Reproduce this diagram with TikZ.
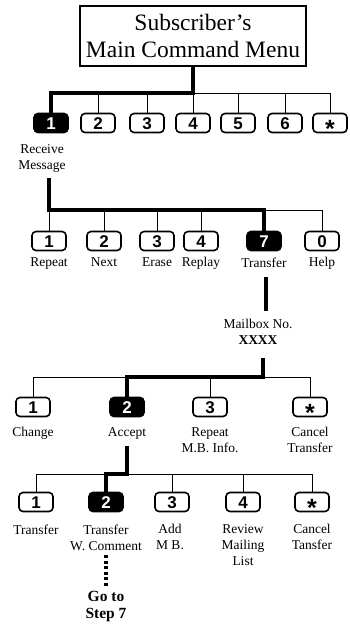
\documentclass[tikz,border=0pt]{standalone}
\usepackage{fontspec}
\setmainfont{Liberation Serif}
\newfontfamily\keyfont{Liberation Sans}
\usetikzlibrary{positioning}
\newcommand{\keystar}{\raisebox{-8.5pt}{\fontsize{25}{25}\selectfont *}}
\begin{document}
\begin{tikzpicture}[
x=1pt,y=-1pt,
key/.style={draw,line width=1.6pt,rounded corners=4pt,minimum width=34pt,minimum height=19pt,inner sep=0pt,text height=12pt,text depth=0pt,font=\keyfont\bfseries\fontsize{17}{17}\selectfont},
keyon/.style={key,fill=black,text=white},
lbl/.style={align=center,inner sep=0pt,font=\fontsize{13.5}{16}\selectfont},
line/.style={draw,line width=1pt},
bigl/.style={draw,line width=4pt}
]
\useasboundingbox (0,0) rectangle (350,625);

%main menu
\node[draw,line width=1.2pt,minimum width=226pt,minimum height=60pt,inner sep=0pt,align=center,font=\fontsize{23.5}{27}\selectfont] (menu) at (193,36) {Subscriber's\\Main Command Menu};

\coordinate (bus1) at (51,93);
\node[keyon] (k11) at (51,123) {1};
\node[key] (k12) at (98,123) {2};
\node[key] (k13) at (147,123) {3};
\node[key] (k14) at (193,123) {4};
\node[key] (k15) at (238,123) {5};
\node[key] (k16) at (285,123) {6};
\node[key] (k17) at (330,123) {\keystar};
\node[lbl,anchor=north] (rcv) at (42,144) {Receive\\Message};

\path[line] (k11 |- bus1) -- (k17 |- bus1);
	\path[line] (k12) -- (k12 |- bus1);
	\path[line] (k13) -- (k13 |- bus1);
	\path[line] (k14) -- (k14 |- bus1);
	\path[line] (k15) -- (k15 |- bus1);
	\path[line] (k16) -- (k16 |- bus1);
	\path[line] (k17) -- (k17 |- bus1);
\path[bigl] (menu) -- (menu |- bus1) -| (k11);

%receive message
\coordinate (bus2) at (49,210);
\node[key] (k21) at (49,241) {1};
\node[key] (k22) at (104,241) {2};
\node[key] (k23) at (157,241) {3};
\node[key] (k24) at (201,241) {4};
\node[keyon] (k25) at (264,241) {7};
\node[key] (k26) at (322,241) {0};
	\node[lbl,below=6pt of k21] (l21) {Repeat};
	\node[lbl,below=6pt of k22] (l22) {Next};
	\node[lbl,below=6pt of k23] (l23) {Erase};
	\node[lbl,below=6pt of k24] (l24) {Replay};
	\node[lbl,below=6pt of k25] (l25) {Transfer};
	\node[lbl,below=6pt of k26] (l26) {Help};

\path[line] (k21 |- bus2) -- (k26 |- bus2);
	\path[line] (k21) -- (k21 |- bus2);
	\path[line] (k22) -- (k22 |- bus2);
	\path[line] (k23) -- (k23 |- bus2);
	\path[line] (k24) -- (k24 |- bus2);
	\path[line] (k26) -- (k26 |- bus2);
\path[bigl,shorten <=6pt] (rcv.south -| bus2) -- (bus2) -| (k25);

%transfer
\node[lbl,anchor=north] (mbox) at (258,319) {Mailbox No.\\\textbf{XXXX}};
\path[bigl,shorten <=10pt,shorten >=8pt] ([xshift=2pt]l25.south) -- ([xshift=2pt]l25.south |- mbox.north);

\coordinate (bus3) at (263,377);
\node[key] (k31) at (33,407) {1};
\node[keyon] (k32) at (127,407) {2};
\node[key] (k33) at (210,407) {3};
\node[key] (k34) at (310,407) {\keystar};
	\node[lbl,below=10pt of k31] (l31) {Change};
	\node[lbl,below=10pt of k32] (l32) {Accept};
	\node[lbl,below=10pt of k33] (l33) {Repeat\\M.B. Info.};
	\node[lbl,below=10pt of k34] (l34) {Cancel\\Transfer};

\path[line] (k31 |- bus3) -- (k34 |- bus3);
	\path[line] (k31) -- (k31 |- bus3);
	\path[line] (k33) -- (k33 |- bus3);
	\path[line] (k34) -- (k34 |- bus3);
\path[bigl,shorten <=13pt] (mbox.south -| bus3) -- (bus3) -| (k32);

%accept
\coordinate (bus4) at (127,474);
\node[key] (k41) at (36,502) {1};
\node[keyon] (k42) at (106,502) {2};
\node[key] (k43) at (172,502) {3};
\node[key] (k44) at (243,502) {4};
\node[key] (k45) at (312,502) {\keystar};
	\node[lbl,below=12pt of k41] (l41) {Transfer};
	\node[lbl,below=12pt of k42] (l42) {Transfer\\W. Comment};
	\node[lbl,below=12pt of k43,xshift=-2pt] (l43) {Add\\M B.};
	\node[lbl,below=12pt of k44] (l44) {Review\\Mailing\\List};
	\node[lbl,below=12pt of k45] (l45) {Cancel\\Tansfer};

\path[line] (k41 |- bus4) -- (k45 |- bus4);
	\path[line] (k41) -- (k41 |- bus4);
	\path[line] (k43) -- (k43 |- bus4);
	\path[line] (k44) -- (k44 |- bus4);
	\path[line] (k45) -- (k45 |- bus4);
\path[bigl,shorten <=7pt] (l32.south) -- (bus4) -| (k42);

%go to step 7
\node[lbl,anchor=north,font=\bfseries\fontsize{15.5}{17}\selectfont] (goto) at (106,591) {Go to\\Step 7};
\path[bigl,dash pattern=on 3pt off 2.5pt,shorten <=5pt,shorten >=3pt] (l42.south -| goto) -- (goto);

\end{tikzpicture}
\end{document}
